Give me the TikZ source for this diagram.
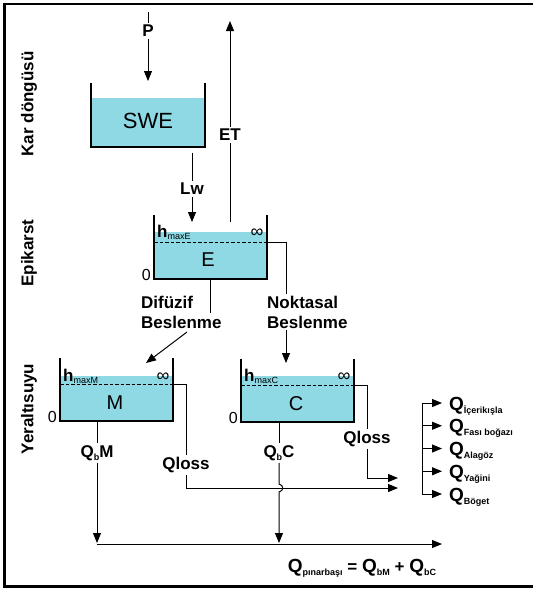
\documentclass[tikz,border=0pt]{standalone}
\usepackage{fontspec}
\setmainfont{Liberation Sans}
\usetikzlibrary{arrows.meta}

\definecolor{water}{RGB}{142,217,228}

\tikzset{
  lbl/.style={font=\bfseries\fontsize{17}{20}\selectfont, inner sep=2pt},
  tanklbl/.style={font=\fontsize{20}{22}\selectfont, inner sep=0pt},
  zero/.style={font=\fontsize{16}{18}\selectfont, inner sep=0pt},
  side/.style={lbl, rotate=90},
  wall/.style={line width=1.5pt, line join=miter},
  flow/.style={line width=1pt},
  arr/.style={flow, -{Triangle[length=10pt,width=8pt]}},
  level/.style={line width=0.8pt, dash pattern=on 3.5pt off 2pt},
}

\newcommand{\subtxt}[1]{\raisebox{-3pt}{\fontsize{9}{10}\selectfont #1}}
\newcommand{\Qsub}[1]{{\fontsize{19}{20}\selectfont Q}\subtxt{#1}}
\newcommand{\hmax}[1]{h\raisebox{-2.5pt}{\mdseries\fontsize{9}{10}\selectfont #1}}
% name, left, right, top, water, level, bottom
\newcommand{\tank}[7]{%
  \fill[water] (#2,#5) rectangle (#3,#7);
  \draw[wall] (#2,#4) -- (#2,#7) -- (#3,#7) -- (#3,#4);
  \coordinate (#1-wl) at (#2,#5);
  \coordinate (#1-wr) at (#3,#5);
  \coordinate (#1-ll) at (#2,#6);
  \coordinate (#1-lr) at (#3,#6);
  \coordinate (#1-bl) at (#2,#7);
}

\begin{document}
\begin{tikzpicture}[x=1pt,y=-1pt]
\useasboundingbox (0,0) rectangle (533,590);
\draw[line width=2.2pt] (533,4) -- (4.5,4) -- (4.5,586.5) -- (533,586.5);

% compartments
\tank{swe}{91}{205}{83}{98}{98}{147}
\tank{e}{154}{267}{215}{232}{242}{279}
\tank{m}{60}{173}{358}{376}{384}{421}
\tank{c}{241}{354}{359}{376}{385}{422}

\node[tanklbl, font=\fontsize{22}{24}\selectfont] (swe) at (148,121) {SWE};
\node[tanklbl] (e) at (208,260) {E};
\node[tanklbl] (m) at (115,403) {M};
\node[tanklbl] (c) at (296,404) {C};

\foreach \t/\s in {e/maxE,m/maxM,c/maxC} {
  \draw[level] (\t-ll) -- (\t-lr);
  \node[lbl, anchor=base west, inner sep=0pt] (\t-h) at ([shift={(3,5)}]\t-wl) {\hmax{\s}};
  \node[font=\fontsize{18}{18}\selectfont, inner sep=0pt] (\t-inf) at ([shift={(-10,1)}]\t-wr) {∞};
  \node[zero, anchor=east] (\t-zero) at ([shift={(-3,-4)}]\t-bl) {0};
}

% layer names
\node[side] (kar) at (29,104) {Kar döngüsü};
\node[side] (epi) at (29,253) {Epikarst};
\node[side] (yer) at (29,409) {Yeraltısuyu};

% snow cycle
\coordinate (pin) at (148,12);
\coordinate (sweIn) at (148,81);
\node[lbl] (p) at (148,31) {P};
\draw[flow] (pin) -- (p);
\draw[arr] (p) -- (sweIn);

\coordinate (etFoot) at (230,222);
\coordinate (etTop) at (230,21);
\node[lbl, fill=white] (et) at (230,135) {ET};
\draw[flow] (etFoot) -- (et);
\draw[arr] (et) -- (etTop);

\coordinate (lwTop) at (192,153);
\coordinate (eIn) at (192,222);
\node[lbl] (lw) at (192,189) {Lw};
\draw[flow] (lwTop) -- (lw);
\draw[arr] (lw) -- (eIn);

% epikarst recharge
\node[lbl, align=left, anchor=west] (dif) at (139,312) {Difüzif\\Beslenme};
\coordinate (eOut) at (210,279);
\coordinate (difEnd) at (210,313);
\coordinate (difA) at (187,332);
\coordinate (mIn) at (146,363);
\draw[flow] (eOut) -- (difEnd);
\draw[arr] (difA) -- (mIn);

\node[lbl, align=left, anchor=west] (nok) at (265,312) {Noktasal\\Beslenme};
\coordinate (cIn) at (286,363);
\draw[flow] (e-lr) -| ([xshift=21]nok.north west);
\draw[arr] ([xshift=21]nok.south west) -- (cIn);

% losses
\node[lbl] (mloss) at (186,465) {Qloss};
\coordinate (mlossEnd) at (398,488);
\draw[flow] (m-lr) -| (mloss);
\draw[arr] (mloss) |- (mlossEnd);

\node[lbl] (closs) at (367,439) {Qloss};
\coordinate (clossEnd) at (398,478);
\draw[flow] (c-lr) -| (closs);
\draw[arr] (closs) |- (clossEnd);

% base flow
\node[lbl] (qbm) at (97,453) {Q\subtxt{b}M};
\coordinate (mOut) at (97,421);
\coordinate (qbmEnd) at (97,543);
\draw[flow] (mOut) -- (qbm);
\draw[arr] (qbm) -- (qbmEnd);

\node[lbl] (qbc) at (279,453) {Q\subtxt{b}C};
\coordinate (cOut) at (279,422);
\coordinate (qbcEnd) at (279,543);
\draw[flow] (cOut) -- (qbc);
\draw[arr] (qbc) -- (279,484) .. controls (284,485) and (284,491) .. (279,492) -- (qbcEnd);

\coordinate (sumL) at (97,544);
\coordinate (sumR) at (442,544);
\draw[arr] (sumL) -- (sumR);
\node[lbl] (qsum) at (362,568) {\Qsub{pınarbaşı} = \Qsub{bM} + \Qsub{bC}};

% springs
\coordinate (brT) at (422,403);
\coordinate (brB) at (422,494);
\draw[flow] (brT) -- (brB);
\foreach \name [count=\i from 0] in {İçerikışla, Fası boğazı, Alagöz, Yağini, Böget} {
  \pgfmathsetmacro\yy{403+22.75*\i}
  \coordinate (br\i) at (422,\yy);
  \coordinate (out\i) at (442,\yy);
  \draw[arr] (br\i) -- (out\i);
  \node[lbl, anchor=base west, inner sep=0pt] (q\i) at (449,\yy+7) {\Qsub{\name}};
}
\end{tikzpicture}
\end{document}
